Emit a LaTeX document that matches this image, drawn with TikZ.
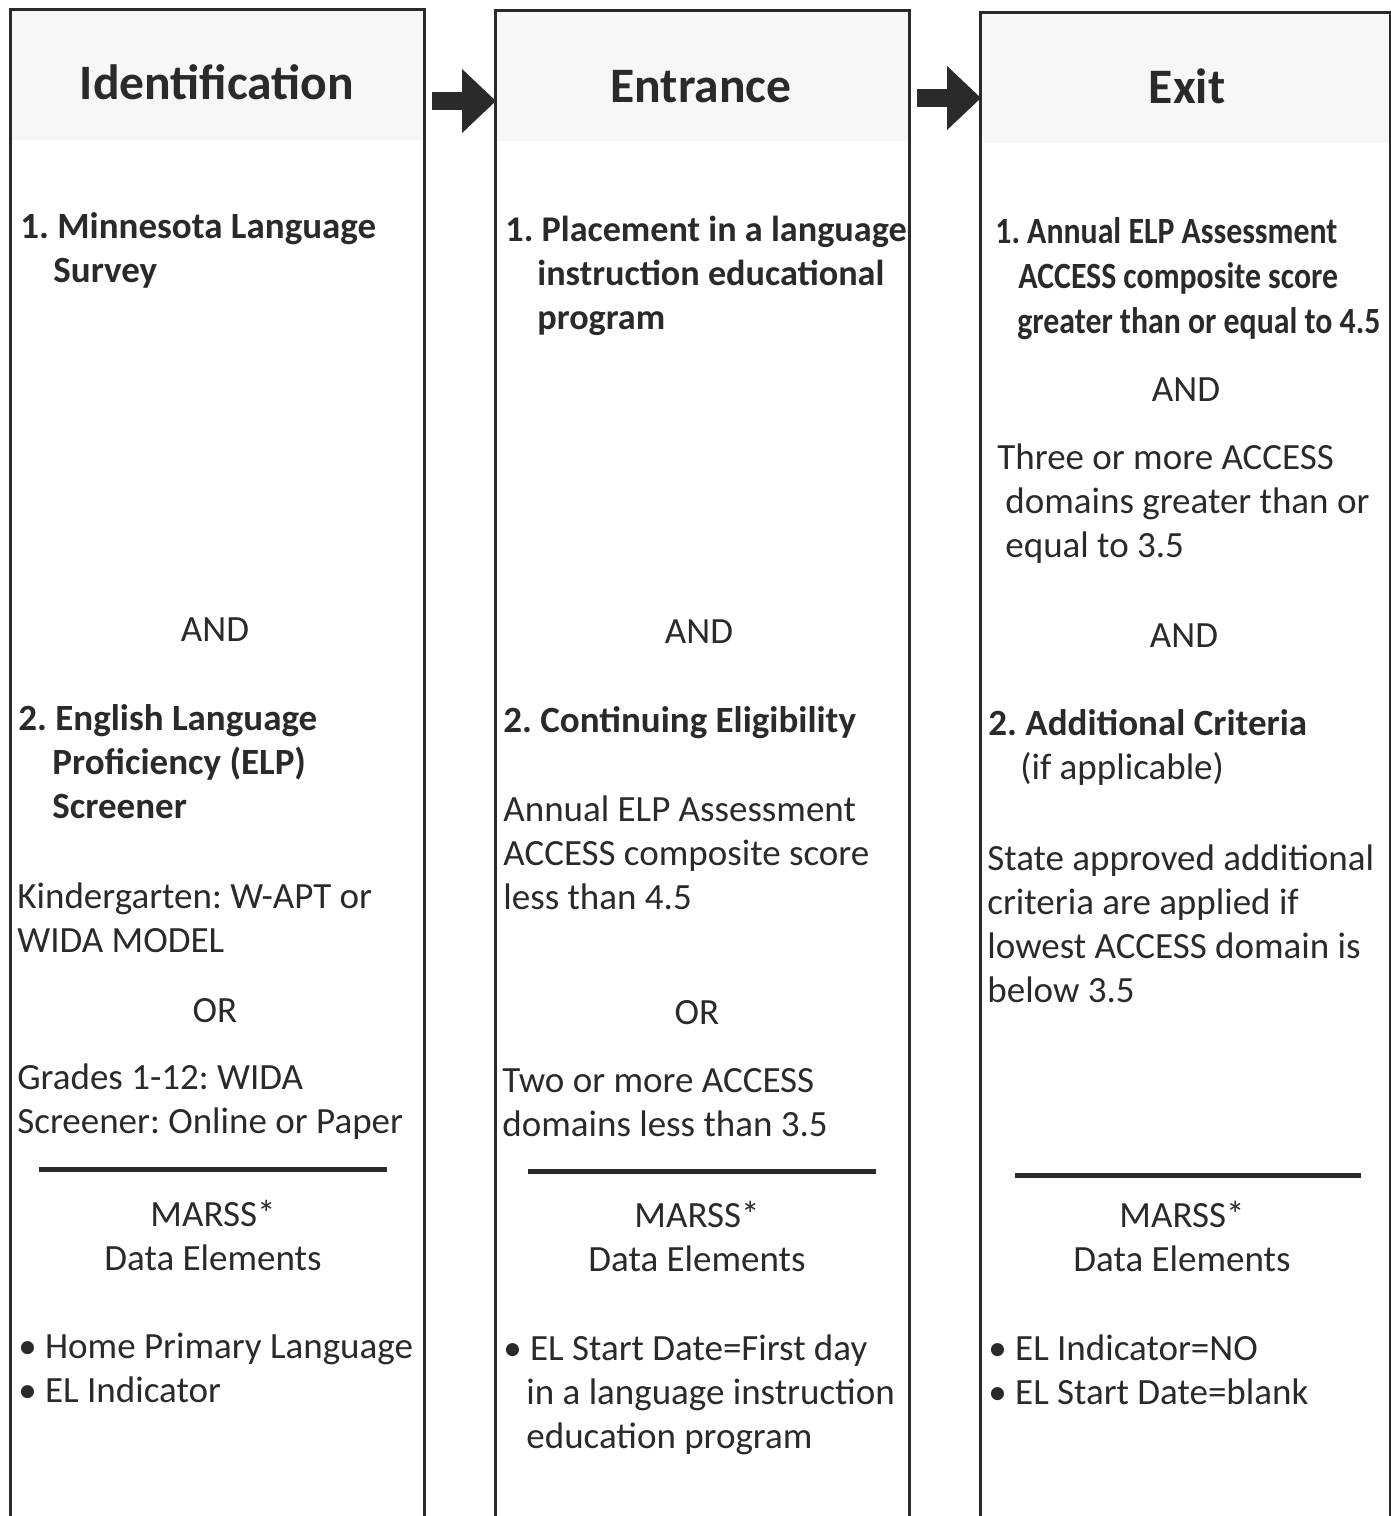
\documentclass[tikz,border=0pt]{standalone}
\usepackage{fontspec}
\setmainfont{Carlito}
\newfontfamily\condfont[FakeStretch=0.86]{Carlito}
\usetikzlibrary{arrows.meta,calc}
\definecolor{ink}{HTML}{2A2A2A}
\definecolor{band}{HTML}{F7F7F7}
\newcommand{\lns}[1]{\begin{tabular}[t]{@{}l@{}}#1\end{tabular}}
\frenchspacing
\begin{document}
\begin{tikzpicture}[x=0.5pt,y=-0.5pt,
  colbox/.style={draw=ink, line width=1.5pt, rectangle, anchor=north west, inner sep=0pt, minimum height=770pt},
  bandbox/.style={fill=band, draw=none, rectangle, anchor=north west, inner sep=0pt, minimum height=66pt},
  head/.style={text=ink, inner sep=0pt, anchor=base, font=\fontsize{24.8}{29}\selectfont\bfseries},
  txt/.style={text=ink, inner sep=0pt, anchor=base west, font=\fontsize{18.5}{22}\selectfont},
  btxt/.style={txt, font=\fontsize{18.5}{22}\selectfont\bfseries},
  ctxt/.style={text=ink, inner sep=0pt, anchor=base, font=\fontsize{18.5}{22}\selectfont},
  rulebar/.style={draw=ink, line width=2.5pt},
  fatarrow/.style={draw=ink, line width=9pt, -{Triangle[length=17pt, width=31pt]}, shorten >=-1pt}
]
\useasboundingbox (0,0) rectangle (1391,1516);
% header bands
\node[bandbox, minimum width=207pt] (h1) at (9,8) {};
\node[bandbox, minimum width=207pt] (h2) at (494,9) {};
\node[bandbox, minimum width=205pt] (h3) at (979,11) {};
% boxes
\node[colbox, minimum width=207pt] (b1) at (9,8) {};
\node[colbox, minimum width=207pt] (b2) at (494,9) {};
\node[colbox, minimum width=205pt] (b3) at (979,11) {};
% arrows
\coordinate (a1s) at ($(b1.north east)+(6,93)$);
\coordinate (a1e) at ($(b2.north west)+(0,92)$);
\coordinate (a2s) at ($(b2.north east)+(6,89)$);
\coordinate (a2e) at ($(b3.north west)+(0,87)$);
\draw[fatarrow] (a1s) -- (a1e);
\draw[fatarrow] (a2s) -- (a2e);

% column 1
\node[head] (t1) at (217,99) {Identification};
\node[btxt] (c1a) at (20,238) {\lns{1. Minnesota Language\\\hspace*{16.5pt}Survey}};
\node[ctxt] (c1b) at (215,641) {AND};
\node[btxt] (c1c) at (18,730) {\lns{2. English Language\\\hspace*{17pt}Proficiency (ELP)\\\hspace*{17pt}Screener}};
\node[txt] (c1d) at (17,908) {\lns{Kindergarten: W-APT or\\WIDA MODEL}};
\node[ctxt] (c1e) at (215,1022) {OR};
\node[txt] (c1f) at (17,1089) {\lns{Grades 1-12: WIDA\\Screener: Online or Paper}};
\draw[rulebar] (39,1169) -- (387,1169);
\node[ctxt] (c1g) at (213,1226) {\lns{\hfil MARSS*\hfil\\Data Elements}};
\node[txt] (c1h) at (18,1358) {\lns{• Home Primary Language\\• EL Indicator}};

% column 2
\node[head] (t2) at (701,102) {Entrance};
\node[btxt, font=\fontsize{18.1}{22}\selectfont\bfseries] (c2a) at (505,241) {\lns{1. Placement in a language\\\hspace*{16pt}instruction educational\\\hspace*{16pt}program}};
\node[ctxt] (c2b) at (699,643) {AND};
\node[btxt] (c2c) at (503,732) {2. Continuing Eligibility};
\node[txt] (c2d) at (503,821) {\lns{Annual ELP Assessment\\ACCESS composite score\\less than 4.5}};
\node[ctxt] (c2e) at (697,1024) {OR};
\node[txt] (c2f) at (502,1092) {\lns{Two or more ACCESS\\domains less than 3.5}};
\draw[rulebar] (528,1171) -- (876,1171);
\node[ctxt] (c2g) at (697,1227) {\lns{\hfil MARSS*\hfil\\Data Elements}};
\node[txt] (c2h) at (503,1360) {\lns{• EL Start Date=First day\\\hspace*{11.5pt}in a language instruction\\\hspace*{11.5pt}education program}};

% column 3
\node[head] (t3) at (1187,103) {Exit};
\node[btxt, font=\fontsize{18.5}{22.5}\condfont\bfseries] (c3a) at (995,243) {\lns{1. Annual ELP Assessment\\\hspace*{11.5pt}ACCESS composite score\\\hspace*{11pt}greater than or equal to 4.5}};
\node[ctxt] (c3b) at (1186,401) {AND};
\node[txt] (c3c) at (997,469) {\lns{Three or more ACCESS\\\hspace*{4pt}domains greater than or\\\hspace*{4pt}equal to 3.5}};
\node[ctxt] (c3d) at (1184,647) {AND};
\node[txt] (c3e) at (988,735) {\lns{\textbf{2. Additional Criteria}\\\hspace*{16pt}(if applicable)}};
\node[txt] (c3f) at (987,870) {\lns{State approved additional\\criteria are applied if\\lowest ACCESS domain is\\below 3.5}};
\draw[rulebar] (1015,1175) -- (1361,1175);
\node[ctxt] (c3g) at (1182,1227) {\lns{\hfil MARSS*\hfil\\Data Elements}};
\node[txt] (c3h) at (988,1360) {\lns{• EL Indicator=NO\\• EL Start Date=blank}};
\end{tikzpicture}
\end{document}
